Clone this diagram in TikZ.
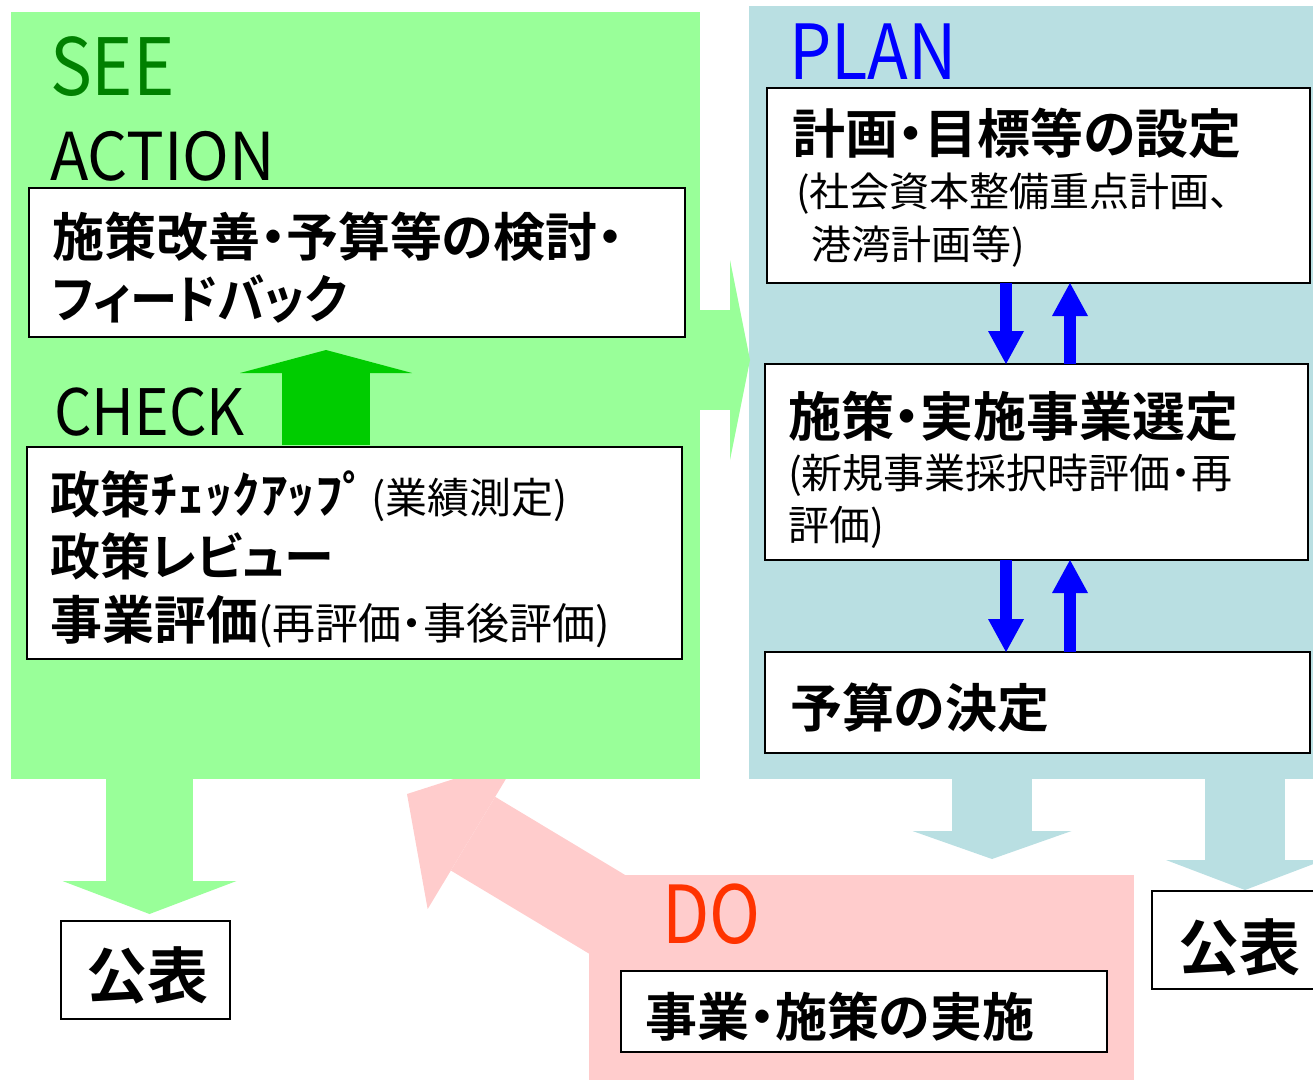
\documentclass[tikz,border=0pt]{standalone}
\usepackage{fontspec}
\setmainfont{Noto Sans CJK JP}[BoldFont={* Bold},RawFeature=+palt]
\usetikzlibrary{arrows.meta}
\definecolor{seeG}{RGB}{153,255,153}
\definecolor{seeDark}{RGB}{0,128,0}
\definecolor{upG}{RGB}{0,204,0}
\definecolor{planB}{RGB}{185,223,226}
\definecolor{doP}{RGB}{255,204,204}
\definecolor{doR}{RGB}{255,51,0}
\definecolor{planT}{RGB}{0,0,255}
\newcommand{\fs}[1]{\fontsize{#1pt}{#1pt}\selectfont}
\newcommand{\nx}[2]{\scalebox{#1}[1]{#2}}
\begin{document}
\begin{tikzpicture}[x=1pt,y=-1pt,
  area/.style={anchor=north west,inner sep=0pt,outer sep=0pt,draw=none},
  box/.style={anchor=north west,inner sep=0pt,outer sep=0pt,draw=black,line width=2pt,fill=white},
  txt/.style={anchor=base west,inner sep=0pt,outer sep=0pt},
  head/.style={txt,font=\fs{#1}},
  bj/.style={txt,font=\fs{#1}\bfseries},
  rj/.style={txt,font=\fs{#1}},
  blockarrow/.style n args={4}{draw=#1,line width=#2,line cap=butt,
     -{Triangle[length=#3,width=#4,line width=0pt]}},
  thin arrow/.style={draw=planT,line width=12pt,line cap=butt,
     -{Triangle[length=33pt,width=36pt,line width=0pt]}}]
\useasboundingbox (0,0) rectangle (1313,1079);

% ---- DO area and pink arrow (behind SEE) ----
\node[area,fill=doP,minimum width=545pt,minimum height=210pt] (doarea) at (589,875) {};
\coordinate (dotail) at (733,990);
\coordinate (dotip) at (407,794);
\draw[blockarrow={doP}{86pt}{77pt}{176pt}] (dotail) -- (dotip);

% ---- SEE and PLAN areas ----
\node[area,fill=seeG,minimum width=689pt,minimum height=767pt] (seearea) at (11,12) {};
\node[area,fill=planB,minimum width=580pt,minimum height=773pt] (planarea) at (749,6) {};

% ---- big arrows ----
\coordinate (gr1) at (695,360);
\coordinate (gr2) at (750,360);
\draw[blockarrow={seeG}{100pt}{20pt}{200pt}] (gr1) -- (gr2);

\coordinate (gu1) at (326,445);
\coordinate (gu2) at (326,350);
\draw[blockarrow={upG}{88pt}{23pt}{172pt}] (gu1) -- (gu2);

\coordinate (gd1) at (149.5,775);
\coordinate (gd2) at (149.5,914);
\draw[blockarrow={seeG}{87pt}{33pt}{174pt}] (gd1) -- (gd2);

\coordinate (ba1) at (992,775);
\coordinate (ba2) at (992,859);
\draw[blockarrow={planB}{80pt}{28pt}{159pt}] (ba1) -- (ba2);

\coordinate (bb1) at (1245,775);
\coordinate (bb2) at (1245,890);
\draw[blockarrow={planB}{80pt}{30pt}{158pt}] (bb1) -- (bb2);

% ---- headings ----
\node[head=79,text=seeDark] (tsee) at (50,95) {\nx{0.89}{SEE}};
\node[head=66] (taction) at (50,180) {\nx{0.955}{ACTION}};
\node[head=64] (tcheck) at (54,435) {\nx{0.92}{CHECK}};
\node[head=76,text=planT] (tplan) at (789,79) {\nx{0.88}{PLAN}};
\node[head=80,text=doR] (tdo) at (662,943) {\nx{0.86}{DO}};

% ---- boxes ----
\node[box,minimum width=656pt,minimum height=149pt] (act) at (29,188) {};
\node[box,minimum width=655pt,minimum height=212pt] (chk) at (27,447) {};
\node[box,minimum width=169pt,minimum height=98pt] (pubL) at (61,921) {};
\node[box,minimum width=543pt,minimum height=195pt] (b1) at (767,88) {};
\node[box,minimum width=543pt,minimum height=196pt] (b2) at (765,364) {};
\node[box,minimum width=545pt,minimum height=101pt] (b3) at (765,652) {};
\node[box,minimum width=486pt,minimum height=81pt] (dobox) at (621,971) {};
\node[box,minimum width=180pt,minimum height=98pt] (pubR) at (1152,891) {};

% ---- blue arrows ----
\coordinate (xd) at (1006,0);
\coordinate (xu) at (1070,0);
\draw[thin arrow] (b1.south -| xd) -- (b2.north -| xd);
\draw[thin arrow] (b2.north -| xu) -- (b1.south -| xu);
\draw[thin arrow] (b2.south -| xd) -- (b3.north -| xd);
\draw[thin arrow] (b3.north -| xu) -- (b2.south -| xu);

% ---- texts ----
\node[bj=52] (a1) at (52,256) {施策改善・予算等の検討・};
\node[bj=52] (a2) at (52,318) {\nx{0.91}{フィードバック}};
\node[bj=50] (c1) at (50,513) {政策\nx{1.1}{ﾁｪｯｸｱｯﾌﾟ}\hspace{1pt}{\mdseries\fs{42}(業績測定)}};
\node[bj=50] (c2) at (50,575) {政策レビュー};
\node[bj=52] (c3) at (50,639) {事業評価{\mdseries\fs{43}(再評価・事後評価)}};
\node[bj=53] (p1) at (792,153) {計画・目標等の設定};
\node[rj=40] (p2) at (796,206) {(社会資本整備重点計画、};
\node[rj=40] (p3) at (811,259) {港湾計画等)};
\node[bj=53] (q1) at (788,436) {施策・実施事業選定};
\node[rj=41] (q2) at (788,488) {(新規事業採択時評価・再};
\node[rj=41] (q3) at (788,540) {評価)};
\node[bj=52] (r1) at (790,727) {予算の決定};
\node[bj=52] (d1) at (645,1036) {事業・施策の実施};
\node[bj=61] (pl) at (86,998) {公表};
\node[bj=61] (pr) at (1178,970) {公表};
\end{tikzpicture}
\end{document}
